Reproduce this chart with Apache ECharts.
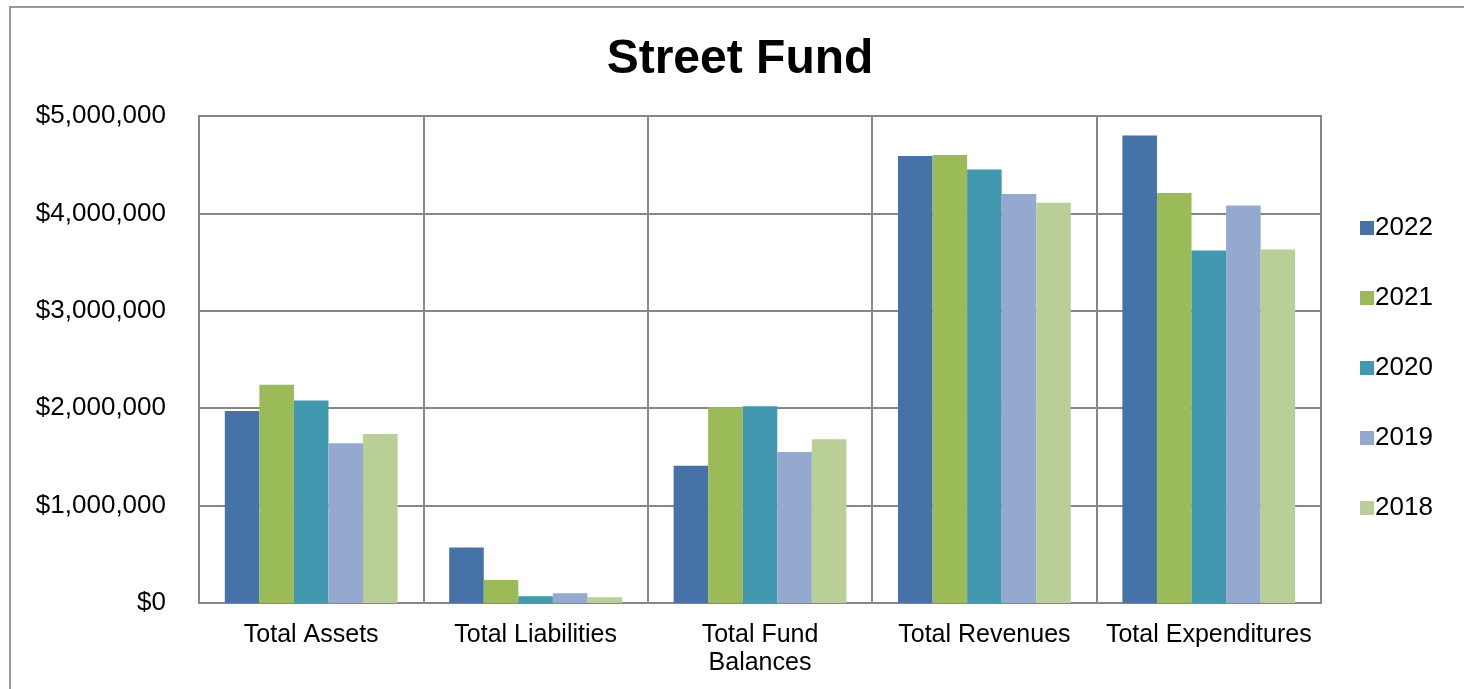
<!DOCTYPE html>
<html>
<head>
<meta charset="utf-8">
<script src="https://cdn.jsdelivr.net/npm/echarts@6/dist/echarts.min.js"></script>
<style>
  html, body { margin: 0; padding: 0; background: #fff; }
  #chart { width: 1464px; height: 689px; }
</style>
</head>
<body>
<div id="chart"></div>
<script>
const categories = ['Total Assets', 'Total Liabilities', 'Total Fund\nBalances', 'Total Revenues', 'Total Expenditures'];
const years = ['2022', '2021', '2020', '2019', '2018'];
const colors = ['#4572A7', '#9BBB59', '#4198AF', '#95A9D0', '#BACF96'];

const v2022 = [1970000, 570000, 1410000, 4590000, 4800000];
const v2021 = [2240000, 236000, 2010000, 4600000, 4210000];
const v2020 = [2080000, 70000, 2020000, 4450000, 3620000];
const v2019 = [1640000, 100000, 1550000, 4200000, 4080000];
const v2018 = [1735000, 60000, 1680000, 4110000, 3630000];
const seriesValues = [v2022, v2021, v2020, v2019, v2018];

const gridColor = '#878787';
const font = 'Liberation Sans, Arial, sans-serif';

const chart = echarts.init(document.getElementById('chart'));

const option = {
  animation: false,
  color: colors,
  title: {
    text: 'Street Fund',
    left: 735,
    top: 31,
    textAlign: 'center',
    textStyle: { fontFamily: font, fontSize: 48, fontWeight: 'bold', color: '#000' }
  },
  graphic: [{
    type: 'rect',
    shape: { x: 10, y: 7, width: 1480, height: 700 },
    style: { fill: 'none', stroke: '#999', lineWidth: 2 },
    silent: true
  }],
  legend: {
    orient: 'vertical',
    left: 1355,
    top: 208,
    itemWidth: 14,
    itemHeight: 14,
    itemGap: 40,
    icon: 'rect',
    textStyle: { fontFamily: font, fontSize: 26, color: '#000', lineHeight: 30, padding: [0, 0, 0, -4] },
    data: years
  },
  grid: {
    left: 199,
    right: 143,
    top: 116,
    bottom: 86,
    show: true,
    borderColor: gridColor,
    borderWidth: 2
  },
  xAxis: {
    type: 'category',
    data: categories,
    axisLine: { show: true, lineStyle: { color: gridColor, width: 2 } },
    axisTick: { show: false },
    splitLine: { show: true, interval: 0, lineStyle: { color: gridColor, width: 2 } },
    axisLabel: { interval: 0, fontFamily: font, fontSize: 25, color: '#000', margin: 18, lineHeight: 28 }
  },
  yAxis: {
    type: 'value',
    min: 0,
    max: 5000000,
    interval: 1000000,
    axisLine: { show: true, lineStyle: { color: gridColor, width: 2 } },
    axisTick: { show: false },
    splitLine: { show: true, lineStyle: { color: gridColor, width: 2 } },
    axisLabel: {
      fontFamily: font, fontSize: 26, color: '#000', margin: 33,
      formatter: v => '$' + v.toLocaleString('en-US')
    }
  },
  series: years.map((y, i) => ({
    name: y,
    type: 'bar',
    data: seriesValues[i],
    barGap: '0%',
    barCategoryGap: '23%'
  }))
};

chart.setOption(option);
</script>
</body>
</html>
